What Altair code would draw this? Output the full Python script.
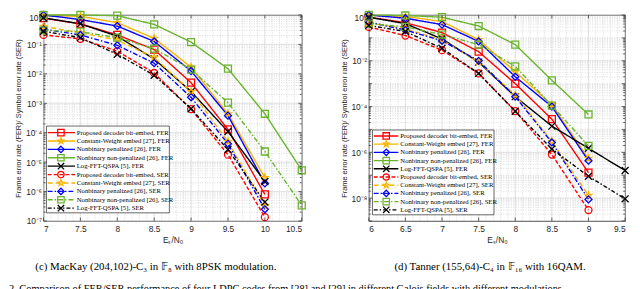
import math
import altair as alt
import pandas as pd

SERIES = [
    "Proposed decoder bit-embed, FER", "Constant-Weight embed [27], FER",
    "Nonbinary penalized [26], FER", "Nonbinary non-penalized [26], FER",
    "Log-FFT-QSPA [5], FER",
    "Proposed decoder bit-embed, SER", "Constant-Weight embed [27], SER",
    "Nonbinary penalized [26], SER", "Nonbinary non-penalized [26], SER",
    "Log-FFT-QSPA [5], SER",
]
RED, ORANGE, BLUE, GREEN, BLACK = "#FF0000", "#F7B500", "#0000FF", "#6AB42D", "#000000"
COLORS = [RED, ORANGE, BLUE, GREEN, BLACK] * 2
DASHES = [[1, 0]] * 5 + [[4, 2], [5, 3], [5, 2, 1.5, 2], [5, 2, 1.5, 2], [4, 2, 1.5, 2]]
XPATH = "M-1,-1L1,1M-1,1L1,-1"
_pts = []
for i in range(10):
    r = 1.0 if i % 2 == 0 else 0.42
    a = math.radians(-90 + 36 * i)
    _pts.append(f"{r * math.cos(a):.3f},{r * math.sin(a):.3f}")
STAR = "M" + "L".join(_pts) + "Z"
SHAPES = ["square", STAR, "diamond", "square", XPATH,
          "circle", STAR, "diamond", "square", XPATH]

# ---- (c) MacKay (204,102) in F8, 8PSK ----
MK_X = [7, 7.5, 8, 8.5, 9, 9.5, 10, 10.5]
MK = {
    SERIES[0]: [0.78, 0.5, 0.21, 0.067, 5.0e-3, 1.3e-4, 8.0e-7],
    SERIES[1]: [0.95, 0.9, 0.55, 0.16, 1.7e-2, 4.4e-4, 3.0e-6],
    SERIES[2]: [1.0, 0.7, 0.42, 0.126, 1.25e-2, 3.8e-4, 1.9e-6],
    SERIES[3]: [1.0, 1.0, 0.95, 0.48, 0.12, 1.5e-2, 4.4e-4, 5.3e-6],
    SERIES[4]: [0.8, 0.5, 0.19, 0.032, 2.5e-3, 1.1e-4, 2.2e-6],
    SERIES[5]: [0.21, 0.155, 0.059, 0.0107, 6.3e-4, 1.8e-5, 1.35e-7],
    SERIES[6]: [0.41, 0.25, 0.14, 0.036, 2.5e-3, 5.0e-5, 3.3e-7],
    SERIES[7]: [0.33, 0.21, 0.093, 0.023, 1.6e-3, 4.2e-5, 2.5e-7],
    SERIES[8]: [0.3, 0.27, 0.17, 0.072, 0.014, 1.05e-3, 2.3e-5, 3.4e-7],
    SERIES[9]: [0.28, 0.17, 0.046, 0.009, 6.5e-4, 2.7e-5, 4.4e-7],
}
MK_XT = [7, 7.5, 8, 8.5, 9, 9.5, 10, 10.5]
MK_YT = [1, 1e-1, 1e-2, 1e-3, 1e-4, 1e-5, 1e-6, 1e-7]

# ---- (d) Tanner (155,64) in F16, 16QAM ----
TN_X = [6, 6.5, 7, 7.5, 8, 8.5, 9, 9.5]
TN = {
    SERIES[0]: [0.8, 0.46, 0.17, 0.025, 1.0e-3, 2.8e-5, 1.3e-7],
    SERIES[1]: [0.95, 0.86, 0.52, 0.083, 3.3e-3, 1.2e-4, 5.4e-7],
    SERIES[2]: [1.0, 0.72, 0.38, 0.07, 2.0e-3, 1.0e-4, 4.3e-7],
    SERIES[3]: [1.0, 0.95, 0.8, 0.33, 0.051, 1.4e-3, 4.5e-5],
    SERIES[4]: [0.8, 0.42, 0.09, 8.7e-3, 2.7e-4, 1.4e-5, 1.5e-6, 1.6e-7],
    SERIES[5]: [0.3, 0.126, 0.029, 2.8e-3, 6.3e-5, 8.0e-7, 3.0e-9],
    SERIES[6]: [0.45, 0.25, 0.08, 9.0e-3, 3.2e-4, 3.0e-6, 1.3e-8],
    SERIES[7]: [0.49, 0.22, 0.075, 0.01, 2.7e-4, 2.7e-6, 8.8e-9],
    SERIES[8]: [0.42, 0.3, 0.14, 0.051, 5.7e-3, 1.1e-4, 1.9e-6],
    SERIES[9]: [0.35, 0.19, 0.035, 2.8e-3, 6.2e-5, 1.4e-6, 9.0e-8, 9.3e-9],
}
TN_XT = [6, 6.5, 7, 7.5, 8, 8.5, 9, 9.5]
TN_YT = [1, 1e-2, 1e-4, 1e-6, 1e-8]

CAP_C = "(c) MacKay (204,102)-C\u2083 in \U0001D53D\u2088 with 8PSK modulation."
CAP_D = "(d) Tanner (155,64)-C\u2084 in \U0001D53D\u2081\u2086 with 16QAM."
FIG_TEXT = ("2.  Comparison of FER/SER performance of four LDPC codes from [28] and [29] "
            "in different Galois fields with different modulations.")
YTITLE = "Frame error rate (FER)/ Symbol error rate (SER)"
XTITLE = "E\u209b/N\u2080"
TOP_LABEL = "10\u2070"

SANS = "Liberation Sans"
SERIF = "Liberation Serif"
TXT = "#262626"

color_sc = alt.Scale(domain=SERIES, range=COLORS)
dash_sc = alt.Scale(domain=SERIES, range=DASHES)
shape_sc = alt.Scale(domain=SERIES, range=SHAPES)


def label_expr(vals):
    sup = str.maketrans("-0123456789", "\u207b\u2070\u00b9\u00b2\u00b3\u2074\u2075\u2076\u2077\u2078\u2079")
    exps = sorted(round(math.log10(v)) for v in vals)
    s = "''"
    for e in exps:
        s = f"(datum.value > {0.5 * 10.0 ** e:.3g} ? '10{str(e).translate(sup)}' : {s})"
    return s


def panel(xs, data, xt, yt, ymin_exp, W, H, leg, cap, cap_x, extra=None):
    rows = []
    for name in SERIES:
        for x, v in zip(xs, data[name]):
            rows.append({"x": x, "y": v, "series": name})
    df = pd.DataFrame(rows)
    xdom = [xt[0], xt[-1]]
    xsc = alt.Scale(domain=xdom, nice=False, zero=False)
    ysc = alt.Scale(type="log", domain=[10.0 ** ymin_exp, 1], nice=False)
    pxx = alt.Scale(domain=[0, W], range=[0, W], nice=False, zero=False)
    pxy = alt.Scale(domain=[0, H], range=[0, H], nice=False, zero=False)

    decades = [10.0 ** k for k in range(ymin_exp, 1)]
    minors = [m * 10.0 ** k for k in range(ymin_exp, 0) for m in range(2, 10)]
    vminor = [round(xdom[0] + 0.1 * i, 2) for i in range(int(round((xdom[1] - xdom[0]) / 0.1)) + 1)]

    def rules_y(vals, **kw):
        return alt.Chart(pd.DataFrame({"v": vals})).mark_rule(**kw).encode(
            y=alt.Y("v:Q", scale=ysc, axis=None))

    def rules_x(vals, **kw):
        return alt.Chart(pd.DataFrame({"v": vals})).mark_rule(**kw).encode(
            x=alt.X("v:Q", scale=xsc, axis=None))

    hmin = rules_y(minors + decades, color="#9A9A9A", strokeWidth=0.5, strokeDash=[1, 1.5], opacity=0.7)
    vmin = rules_x(vminor, color="#9A9A9A", strokeWidth=0.5, strokeDash=[1, 1.5], opacity=0.7)
    hmaj = rules_y(yt, color="#D8D8D8", strokeWidth=0.6)
    vmaj = rules_x(xt, color="#D8D8D8", strokeWidth=0.6)

    def yticks(vals, ln):
        base = alt.Chart(pd.DataFrame({"v": vals}))
        a = base.mark_rule(color=TXT, strokeWidth=0.7).encode(
            y=alt.Y("v:Q", scale=ysc, axis=None), x=alt.value(0), x2=alt.value(ln))
        b = base.mark_rule(color=TXT, strokeWidth=0.7).encode(
            y=alt.Y("v:Q", scale=ysc, axis=None), x=alt.value(W), x2=alt.value(W - ln))
        return [a, b]

    def xticks(vals, ln):
        base = alt.Chart(pd.DataFrame({"v": vals}))
        a = base.mark_rule(color=TXT, strokeWidth=0.7).encode(
            x=alt.X("v:Q", scale=xsc, axis=None), y=alt.value(H), y2=alt.value(H - ln))
        b = base.mark_rule(color=TXT, strokeWidth=0.7).encode(
            x=alt.X("v:Q", scale=xsc, axis=None), y=alt.value(0), y2=alt.value(ln))
        return [a, b]

    base = alt.Chart(df)
    lines = base.mark_line(strokeWidth=1.4).encode(
        x=alt.X("x:Q", scale=xsc, axis=alt.Axis(
            values=xt, format="~g", title=XTITLE, grid=False, ticks=False, domain=False,
            labelFont=SANS, labelFontSize=8.5, labelColor=TXT, labelPadding=4,
            titleFont=SANS, titleFontSize=8.5, titleFontWeight="normal", titleColor=TXT,
            titlePadding=2)),
        y=alt.Y("y:Q", scale=ysc, axis=alt.Axis(
            values=yt[1:], labelExpr=label_expr(yt), title=YTITLE, grid=False, ticks=False,
            domain=False, labelFont=SANS, labelFontSize=8.5, labelColor=TXT, labelPadding=2,
            titleFont=SANS, titleFontSize=7.5, titleFontWeight="normal", titleColor=TXT,
            titlePadding=3)),
        color=alt.Color("series:N", scale=color_sc, legend=None),
        strokeDash=alt.StrokeDash("series:N", scale=dash_sc, legend=None),
        detail="series:N",
    )
    points = base.mark_point(filled=False, strokeWidth=1.3, size=50, opacity=1).encode(
        x=alt.X("x:Q", scale=xsc, axis=None),
        y=alt.Y("y:Q", scale=ysc, axis=None),
        color=alt.Color("series:N", scale=color_sc, legend=None),
        shape=alt.Shape("series:N", scale=shape_sc, legend=None),
    )

    # manual legend (pixel-identity scales)
    lx0, lx1, ly0, ly1, ey0, estep, lnx0, lnx1, mkx, tx = leg
    ldf = pd.DataFrame({"series": SERIES, "idx": list(range(len(SERIES)))})
    lbase = alt.Chart(ldf).transform_calculate(
        ly=f"{ey0} + datum.idx * {estep}", la=f"{lnx0}", lb=f"{lnx1}", lm=f"{mkx}", lt=f"{tx}")
    one = pd.DataFrame({"a": [0]})
    box = alt.Chart(pd.DataFrame({"x0": [lx0], "x1": [lx1], "y0": [ly0], "y1": [ly1]})).mark_rect(
        fill="white", stroke=TXT, strokeWidth=0.7).encode(
        x=alt.X("x0:Q", scale=pxx, axis=None), x2="x1:Q",
        y=alt.Y("y0:Q", scale=pxy, axis=None), y2="y1:Q")
    lrule = lbase.mark_rule(strokeWidth=1.4).encode(
        x=alt.X("la:Q", scale=pxx, axis=None), x2="lb:Q",
        y=alt.Y("ly:Q", scale=pxy, axis=None),
        color=alt.Color("series:N", scale=color_sc, legend=None),
        strokeDash=alt.StrokeDash("series:N", scale=dash_sc, legend=None))
    lpt = lbase.mark_point(filled=False, strokeWidth=1.3, size=42, opacity=1).encode(
        x=alt.X("lm:Q", scale=pxx, axis=None), y=alt.Y("ly:Q", scale=pxy, axis=None),
        color=alt.Color("series:N", scale=color_sc, legend=None),
        shape=alt.Shape("series:N", scale=shape_sc, legend=None))
    ltxt = lbase.mark_text(align="left", baseline="middle", font=SERIF, fontSize=6.8,
                           color="black").encode(
        x=alt.X("lt:Q", scale=pxx, axis=None), y=alt.Y("ly:Q", scale=pxy, axis=None),
        text="series:N")

    capt = alt.Chart(one).mark_text(font=SERIF, fontSize=11, color="black", align="center",
                                    baseline="middle").encode(
        x=alt.value(cap_x), y=alt.value(H + 47), text=alt.value(cap))

    toplab = alt.Chart(one).mark_text(font=SANS, fontSize=8.5, color=TXT, align="right",
                                      baseline="middle", dy=3).encode(
        x=alt.value(-2), y=alt.value(0), text=alt.value(TOP_LABEL))

    layers = [hmin, vmin, hmaj, vmaj, lines, points]
    layers += yticks(decades, 3.5) + yticks(minors, 2) + xticks(xt, 3.5)
    layers += [box, lrule, lpt, ltxt, capt, toplab]
    if extra is not None:
        ex_x, ex_y, ex_t = extra
        layers.append(alt.Chart(one).mark_text(font=SERIF, fontSize=10.5, color="black",
                                               align="left", baseline="alphabetic").encode(
            x=alt.value(ex_x), y=alt.value(ex_y), text=alt.value(ex_t)))
    return alt.layer(*layers).resolve_scale(x="independent", y="independent").properties(
        width=W, height=H)


H = 209
left = panel(MK_X, MK, MK_XT, MK_YT, -7, 262, H,
             (3, 127.7, 112.7, 200.7, 119.3, 8.52, 4.3, 32, 17.7, 33.7),
             CAP_C, 114, extra=(-35, H + 72, FIG_TEXT))
right = panel(TN_X, TN, TN_XT, TN_YT, -9, 260, H,
              (3.7, 127, 116.7, 202.7, 122.7, 8.33, 5, 30, 17.7, 32),
              CAP_D, 123)

chart = alt.hconcat(left, right, spacing=68, bounds="flush").properties(
    padding={"left": 0, "top": -2, "right": 0, "bottom": 0}
).configure_view(stroke=TXT, strokeWidth=0.8)

chart.save("out.html", embed_options={"renderer": "svg", "actions": False})
